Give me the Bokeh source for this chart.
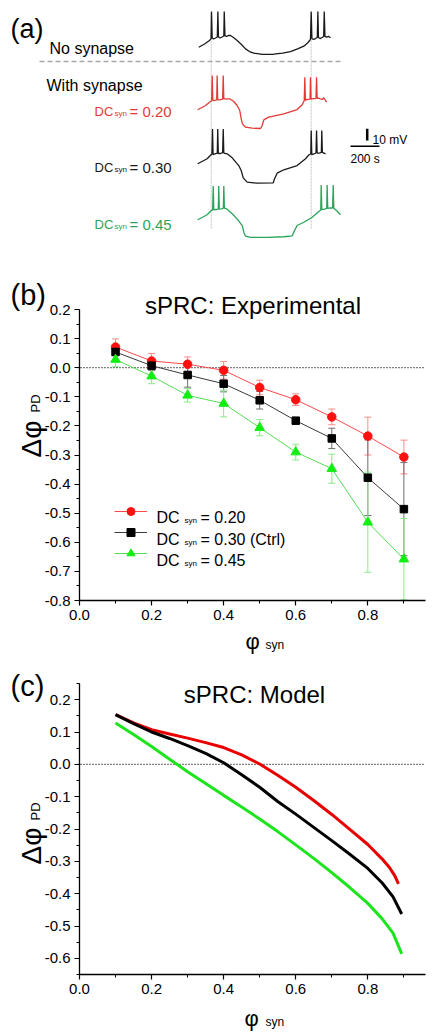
from bokeh.plotting import figure
from bokeh.layouts import column
from bokeh.models import (Range1d, Label, Whisker, TeeHead, ColumnDataSource,
                          Legend, LegendItem, FixedTicker, PrintfTickFormatter)
from bokeh.embed import file_html
from bokeh.resources import INLINE

# ======================= DATA =======================
# (a) membrane potential traces: time (s) from first burst onset, voltage (mV) re. burst plateau
nosyn_t = [-86, -46, -12, -1, 2, 7, 16, 30, 42, 46, 50, 61, 75, 87, 90, 95, 106, 119, 133, 154,
           179, 209, 237, 264, 294, 352, 432, 492, 547, 596, 639, 665, 685, 690, 695, 706, 720,
           732, 736, 740, 751, 765, 776, 780, 785, 796, 809, 823]
nosyn_v = [-8.3, -5.6, -2.6, -0.9, 22.2, -0.4, -1.3, -0.4, 0.4, 22.2, 0.4, -0.4, 0.4, 1.3, 22.2,
           1.3, 0.9, 1.7, 1.7, 0.0, -2.6, -6.0, -9.7, -12.0, -13.4, -14.5, -14.3, -13.3, -12.0,
           -9.8, -7.4, -4.7, -1.7, 22.2, -0.9, -1.7, -0.9, 0.0, 22.2, 0.0, -0.9, 0.0, 0.9, 22.2,
           0.9, 0.4, 1.0, -0.3]
syn020_t = [-93, -39, -5, 3, 7, 11, 18, 38, 41, 45, 59, 79, 83, 87, 94, 128, 156, 179, 197, 207,
            216, 237, 283, 340, 352, 363, 397, 501, 593, 628, 642, 646, 650, 658, 682, 685, 689,
            697, 723, 727, 731, 738, 766, 777, 796]
syn020_v = [-8.8, -5.1, -1.7, -1.2, 20.5, -0.6, -0.9, -0.4, 20.5, -0.2, -0.3, 0.4, 20.5, 0.6, 0.6,
            0.6, -1.7, -5.1, -9.4, -16.5, -20.8, -23.7, -24.5, -24.8, -22.2, -17.4, -15.1, -12.2,
            -8.6, -4.5, -0.9, 19.1, -0.9, 0.0, 0.4, 19.1, 0.4, 0.6, 1.0, 19.1, 1.0, 1.1, 0.0,
            1.5, -2.3]
syn030_t = [-93, -28, 0, 5, 9, 13, 26, 42, 45, 49, 64, 79, 83, 87, 110, 145, 190, 207, 221, 248,
            317, 428, 437, 455, 501, 593, 651, 673, 687, 690, 694, 709, 723, 727, 731, 746, 760,
            763, 767, 789]
syn030_v = [-8.8, -4.5, -0.9, -0.4, 20.9, -0.9, -0.4, 0.4, 20.9, 0.0, 0.0, 0.7, 20.9, 0.4, -0.3,
            -3.7, -10.3, -14.5, -20.8, -24.5, -25.4, -25.1, -21.6, -16.8, -13.9, -10.3, -4.5,
            -1.3, -0.4, 19.7, -0.9, -0.4, 0.4, 19.7, 0.4, 0.4, 0.9, 19.7, 0.9, -0.3]
syn045_t = [-93, -28, 0, 10, 14, 18, 33, 49, 52, 56, 71, 84, 87, 91, 106, 145, 179, 214, 225, 237,
            271, 386, 501, 559, 575, 593, 639, 697, 743, 756, 759, 763, 782, 797, 800, 804, 823,
            838, 842, 846, 865, 892]
syn045_v = [-8.8, -4.5, -0.9, -0.4, 20.1, -0.4, 0.0, 0.4, 20.1, 0.4, 0.6, 1.1, 20.1, 1.1, 0.6,
            -3.7, -8.0, -13.7, -19.4, -22.8, -23.9, -23.9, -23.3, -22.5, -18.0, -13.7, -10.9,
            -6.6, -1.7, -0.4, 20.9, 0.0, 0.4, 0.9, 20.9, 0.9, 1.3, 1.3, 20.9, 1.1, -0.9, -4.5]
burst_onsets = [0, 690]          # s
scale_t, scale_v = 200, 10       # s, mV

# (b) experimental sPRC
phi_exp = [0.1, 0.2, 0.3, 0.4, 0.5, 0.6, 0.7, 0.8, 0.9]
dphi_020 = [0.071, 0.023, 0.012, -0.009, -0.068, -0.110, -0.169, -0.235, -0.307]
err_020 = [0.028, 0.026, 0.025, 0.030, 0.025, 0.020, 0.027, 0.065, 0.058]
dphi_030 = [0.054, 0.007, -0.025, -0.055, -0.112, -0.182, -0.243, -0.378, -0.486]
err_030 = [0.012, 0.016, 0.042, 0.028, 0.030, 0.008, 0.035, 0.130, 0.160]
dphi_045 = [0.028, -0.029, -0.095, -0.123, -0.206, -0.290, -0.347, -0.531, -0.658]
err_045 = [0.025, 0.026, 0.023, 0.046, 0.028, 0.027, 0.050, 0.172, 0.140]

# (c) model sPRC
phi_m020 = [0.10, 0.15, 0.20, 0.25, 0.30, 0.35, 0.40, 0.45, 0.50, 0.55, 0.60, 0.65, 0.70, 0.75,
            0.80, 0.84, 0.86, 0.875, 0.885]
mod_020 = [0.154, 0.128, 0.107, 0.094, 0.081, 0.067, 0.052, 0.029, 0.001, -0.034, -0.071, -0.112,
           -0.155, -0.201, -0.248, -0.293, -0.319, -0.345, -0.370]
phi_m030 = [0.10, 0.15, 0.20, 0.25, 0.30, 0.35, 0.40, 0.45, 0.50, 0.55, 0.60, 0.65, 0.70, 0.75,
            0.80, 0.84, 0.87, 0.894]
mod_030 = [0.154, 0.126, 0.100, 0.080, 0.058, 0.034, 0.005, -0.032, -0.071, -0.115, -0.154, -0.195,
           -0.236, -0.278, -0.322, -0.367, -0.410, -0.463]
phi_m045 = [0.10, 0.15, 0.20, 0.25, 0.30, 0.35, 0.40, 0.45, 0.50, 0.55, 0.60, 0.65, 0.70, 0.75,
            0.80, 0.84, 0.87, 0.894]
mod_045 = [0.128, 0.092, 0.055, 0.016, -0.023, -0.059, -0.096, -0.132, -0.169, -0.208, -0.249,
           -0.291, -0.335, -0.381, -0.430, -0.478, -0.522, -0.586]

# axis extents and ticks
x_lim = (0.0, 0.96)
yb_lim = (-0.8, 0.2)
yc_lim = (-0.65, 0.25)
x_major = [0.0, 0.2, 0.4, 0.6, 0.8]
x_minor = [0.1, 0.3, 0.5, 0.7, 0.9]
yb_major = [-0.8, -0.7, -0.6, -0.5, -0.4, -0.3, -0.2, -0.1, 0.0, 0.1, 0.2]
yb_minor = [-0.75, -0.65, -0.55, -0.45, -0.35, -0.25, -0.15, -0.05, 0.05, 0.15]
yc_major = [-0.6, -0.5, -0.4, -0.3, -0.2, -0.1, 0.0, 0.1, 0.2]
yc_minor = [-0.65, -0.55, -0.45, -0.35, -0.25, -0.15, -0.05, 0.05, 0.15, 0.25]

# ======================= LAYOUT =======================
FONT = "Liberation Sans"
W = 437
RED_A, BLK_A, GRN_A = "#e23a36", "#1a1a1a", "#2aa45a"
ROT = 1.5707963


def lab(p, x, y, text, size, color="black", align="left", baseline="alphabetic", angle=0.0):
    p.add_layout(Label(x=x, y=y, text=text, text_font=FONT, text_font_size=f"{size}px",
                       text_color=color, text_align=align, text_baseline=baseline, angle=angle))


def bare(p):
    p.grid.visible = False
    p.outline_line_color = None


# ---------- panel (a) ----------
A_H = 270
A_TS, A_VS = 6.9, 0.855          # s per px, mV per px
A_T0, A_T1 = (0 - 210.7) * A_TS, (W - 210.7) * A_TS


def ax_(px):
    return (px - 210.7) * A_TS


def ay(py):
    return (A_H - py) * A_VS


pa = figure(width=W, height=A_H, output_backend="svg", toolbar_location=None,
            x_range=Range1d(A_T0, A_T1), y_range=Range1d(0, A_H * A_VS),
            min_border=0, min_border_left=0, min_border_right=0,
            min_border_top=0, min_border_bottom=0)
pa.axis.visible = False
bare(pa)

pa.segment(x0=burst_onsets, y0=[ay(228)] * 2, x1=burst_onsets, y1=[ay(13)] * 2,
           line_color="#c4c4c4", line_width=1, line_dash="2 1")
pa.segment(x0=[ax_(39)], y0=[ay(61)], x1=[ax_(340)], y1=[ay(61)],
           line_color="#a8a8a8", line_width=1.5, line_dash="5 3")

offs = [ay(37), ay(99), ay(153), ay(209)]
traces = [(nosyn_t, nosyn_v, BLK_A), (syn020_t, syn020_v, RED_A),
          (syn030_t, syn030_v, BLK_A), (syn045_t, syn045_v, GRN_A)]
for (t, v, c), o in zip(traces, offs):
    pa.line(t, [vv + o for vv in v], line_color=c, line_width=1.3)

sb_x, sb_y = ax_(350), ay(145.7)
pa.segment(x0=[sb_x], y0=[sb_y], x1=[sb_x + scale_t], y1=[sb_y], line_color="black", line_width=1.5)
vb_x, vb_y = ax_(366.7), ay(140)
pa.segment(x0=[vb_x], y0=[vb_y], x1=[vb_x], y1=[vb_y + scale_v], line_color="black", line_width=2.5)

lab(pa, ax_(10), ay(28), "(a)", 27)
lab(pa, ax_(49), ay(48), "No synapse", 16)
lab(pa, ax_(46), ay(85), "With synapse", 16)
for val, col, base in (("0.20", RED_A, 111), ("0.30", BLK_A, 167), ("0.45", GRN_A, 224)):
    lab(pa, ax_(94), ay(base), "DC", 13, col)
    lab(pa, ax_(114), ay(base + 1.5), "syn", 8, col)
    lab(pa, ax_(129), ay(base), "= " + val, 15, col)
lab(pa, ax_(372), ay(139), "10 mV", 12)
lab(pa, ax_(350), ay(158), "200 s", 12)

# ---------- panels (b), (c): frame = whole figure, axes at fixed locations ----------
FL, FW = 79, 346
XPU = FW / (x_lim[1] - x_lim[0])          # px per x unit


def px2x(px):
    return x_lim[0] + (px - FL) / XPU


def make_panel(top, height, ft, fh, ylim, ymaj, ymin):
    ypu = fh / (ylim[1] - ylim[0])

    def py2y(py):
        return ylim[1] - (py - ft) / ypu

    p = figure(width=W, height=height, output_backend="svg", toolbar_location=None,
               x_range=Range1d(px2x(0), px2x(W)),
               y_range=Range1d(py2y(top + height), py2y(top)),
               min_border=0, min_border_left=0, min_border_right=0,
               min_border_top=0, min_border_bottom=0)
    bare(p)
    p.xaxis.fixed_location = ylim[0]
    p.yaxis.fixed_location = x_lim[0]
    p.xaxis.bounds = x_lim
    p.yaxis.bounds = ylim
    p.xaxis.ticker = FixedTicker(ticks=x_major, minor_ticks=x_minor)
    p.yaxis.ticker = FixedTicker(ticks=ymaj, minor_ticks=ymin)
    for a in (p.xaxis, p.yaxis):
        a.formatter = PrintfTickFormatter(format="%.1f")
        a.axis_line_color = "black"
        a.axis_line_width = 1.3
        a.major_tick_line_color = "black"
        a.major_tick_line_width = 1.2
        a.minor_tick_line_color = "black"
        a.minor_tick_line_width = 1
        a.major_tick_out = 5
        a.major_tick_in = 0
        a.minor_tick_out = 3
        a.minor_tick_in = 0
        a.major_label_text_font = FONT
        a.major_label_text_font_size = "15px"
        a.major_label_text_color = "black"
        a.major_label_standoff = 4
    # zero reference line
    p.segment(x0=[px2x(77)], y0=[0], x1=[x_lim[1]], y1=[0], line_color="black",
              line_width=1.3, line_dash="1 2")
    return p, py2y


# ---------- panel (b) ----------
B_TOP, B_H = A_H, 386
pb, by = make_panel(B_TOP, B_H, 309, 291, yb_lim, yb_major, yb_minor)

series = [
    (dphi_020, err_020, "#ff1010", "#ff4a4a", "#ff8a8a", "circle", 8.5, "= 0.20"),
    (dphi_030, err_030, "#000000", "#3a3a3a", "#6e6e6e", "square", 7.5, "= 0.30 (Ctrl)"),
    (dphi_045, err_045, "#11ee11", "#55dd55", "#88e888", "triangle", 9.5, "= 0.45"),
]
items = []
for y, e, mc, lc, ec, mk, sz, txt in series:
    src = ColumnDataSource(dict(x=phi_exp, y=y,
                                lo=[a - b for a, b in zip(y, e)],
                                hi=[a + b for a, b in zip(y, e)]))
    pb.add_layout(Whisker(source=src, base="x", lower="lo", upper="hi", dimension="height",
                          line_color=ec, line_width=1, level="underlay",
                          upper_head=TeeHead(size=7, line_color=ec, line_width=1),
                          lower_head=TeeHead(size=7, line_color=ec, line_width=1)))
    lr = pb.line("x", "y", source=src, line_color=lc, line_width=1)
    sr = pb.scatter("x", "y", source=src, marker=mk, size=sz, fill_color=mc, line_color=mc)
    items.append(LegendItem(label=" ", renderers=[lr, sr]))

leg = Legend(items=items, location=(114, B_TOP + B_H - 563), glyph_width=33, glyph_height=20,
             label_standoff=9, spacing=1, padding=0, margin=0, border_line_color=None,
             background_fill_alpha=0, label_text_font=FONT, label_text_font_size="16px",
             label_height=20, label_width=10)
pb.add_layout(leg)
for (y, e, mc, lc, ec, mk, sz, txt), base in zip(series, (516.7, 539.0, 559.5)):
    lab(pb, px2x(156), by(base), "DC", 16)
    lab(pb, px2x(184), by(base + 3), "syn", 8)
    lab(pb, px2x(200), by(base), txt, 16)

lab(pb, px2x(10), by(294), "(b)", 29)
lab(pb, px2x(252.5), by(305), "sPRC: Experimental", 24, align="center")
lab(pb, px2x(245), by(641), "\u03c6", 22)
lab(pb, px2x(265), by(644), "syn", 12)
lab(pb, px2x(31), by(457), "\u0394\u03c6", 28, angle=ROT)
lab(pb, px2x(35), by(412), "PD", 13, angle=ROT)

# ---------- panel (c) ----------
C_TOP = A_H + B_H
C_H = 1035 - C_TOP
pc, cy = make_panel(C_TOP, C_H, 683, 291, yc_lim, yc_major, yc_minor)
pc.line(phi_m045, mod_045, line_color="#1ee41e", line_width=3)
pc.line(phi_m020, mod_020, line_color="#e80000", line_width=3)
pc.line(phi_m030, mod_030, line_color="black", line_width=3)

lab(pc, px2x(10), cy(685.5), "(c)", 29)
lab(pc, px2x(254), cy(694), "sPRC: Model", 24, align="center")
lab(pc, px2x(244), cy(1018), "\u03c6", 22)
lab(pc, px2x(265), cy(1021), "syn", 12)
lab(pc, px2x(31), cy(864), "\u0394\u03c6", 28, angle=ROT)
lab(pc, px2x(35), cy(820), "PD", 13, angle=ROT)

layout = column(pa, pb, pc, spacing=0)
open("out.html", "w").write(file_html(layout, INLINE))
